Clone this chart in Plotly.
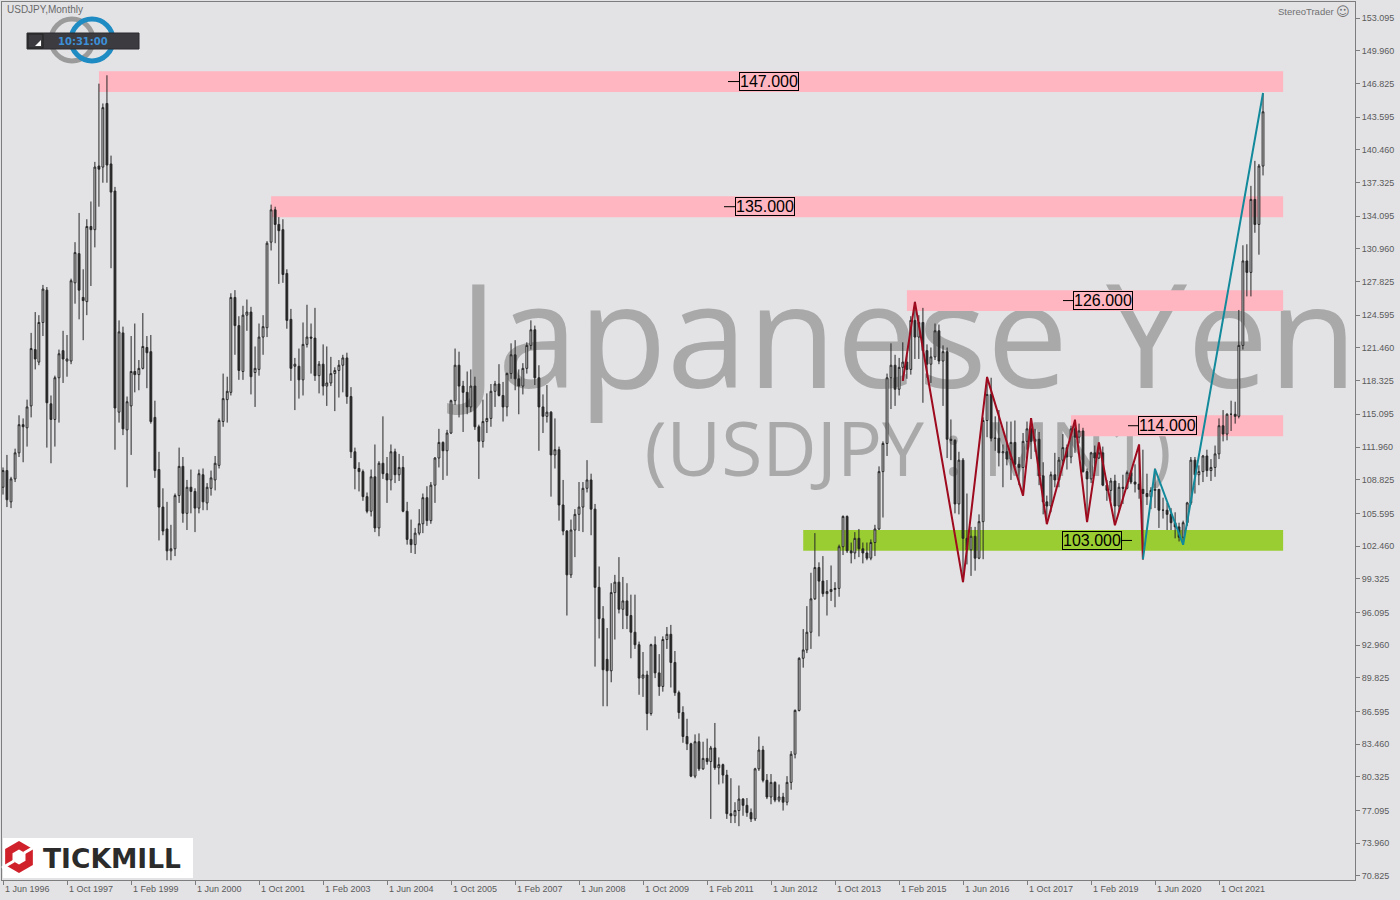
import plotly.graph_objects as go
import pandas as pd

# ---------------- DATA ----------------
start_month = "1996-06-01"

opens = [
    108.1, 109.7, 106.7, 108.9, 111.4, 114.1, 113.8,
    115.9, 121.3, 120.1, 123.9, 127.0, 116.1, 114.6, 118.6, 121.2, 120.2, 120.2, 127.7,
    130.5, 126.3, 125.9, 133.1, 132.8, 138.9, 138.8, 144.9, 139.1, 136.5, 115.3, 122.9,
    113.6, 115.9, 119.2, 118.9, 119.5, 121.5, 121.1, 114.8, 109.8, 106.2, 104.1, 102.0,
    102.2, 107.3, 110.1, 105.6, 108.1, 107.7, 106.1, 109.3, 106.6, 108.0, 108.8, 110.2,
    114.4, 116.5, 117.2, 126.3, 123.6, 119.2, 124.6, 124.9, 119.1, 119.4, 122.5, 123.4,
    131.6, 134.7, 133.3, 132.8, 128.6, 124.2, 119.7, 119.7, 118.4, 121.8, 122.5, 122.4,
    118.8, 119.9, 117.8, 118.1, 119.0, 119.3, 119.8, 120.5, 116.8, 111.5, 109.9, 109.6,
    107.2, 105.8, 109.1, 104.2, 110.4, 109.4, 108.8, 111.5, 109.3, 110.0, 105.8, 103.1,
    102.6, 103.7, 104.6, 107.1, 104.9, 108.3, 110.9, 112.4, 111.6, 113.3, 116.4, 119.8,
    117.8, 117.2, 115.8, 117.8, 113.9, 112.5, 114.4, 114.7, 117.3, 118.0, 116.9, 115.8,
    119.0, 120.8, 118.5, 117.8, 119.5, 121.7, 123.2, 118.6, 115.8, 114.9, 115.3, 111.2,
    111.7, 106.4, 103.9, 99.7, 104.0, 105.5, 106.2, 108.0, 108.8, 106.0, 98.5, 95.5,
    91.6, 90.5, 98.0, 99.0, 96.4, 97.2, 95.8, 94.2, 93.0, 89.8, 90.1, 86.4,
    93.0, 90.3, 89.0, 93.5, 94.0, 91.3, 88.4, 86.5, 84.2, 83.5, 80.4, 83.7,
    81.1, 82.1, 81.8, 83.1, 81.2, 81.5, 80.5, 76.8, 76.6, 77.1, 78.2, 77.6,
    76.9, 76.3, 81.1, 82.9, 80.0, 78.4, 79.8, 78.1, 78.4, 77.9, 79.8, 82.5,
    86.7, 91.7, 92.5, 94.2, 97.4, 100.4, 99.1, 97.9, 98.1, 98.3, 98.4, 102.4,
    105.3, 102.0, 101.8, 103.2, 102.2, 101.8, 101.3, 102.8, 104.1, 109.6, 112.3, 118.6,
    119.8, 117.5, 119.6, 120.1, 119.4, 124.1, 122.5, 123.9, 121.2, 119.9, 120.6, 123.1,
    120.2, 121.1, 112.7, 112.6, 106.5, 110.7, 103.2, 102.1, 103.4, 101.3, 104.8, 114.5,
    117.0, 112.8, 112.8, 111.4, 111.5, 110.8, 112.4, 110.3, 110.0, 112.5, 113.7, 112.5,
    112.7, 109.2, 106.7, 106.3, 109.3, 108.8, 110.7, 111.9, 111.0, 113.7, 112.9, 113.5,
    109.6, 108.9, 111.4, 110.9, 111.4, 108.3, 107.8, 108.7, 106.3, 108.1, 108.0, 109.5,
    108.6, 108.4, 107.9, 107.5, 107.2, 107.8, 107.9, 105.9, 105.9, 105.5, 104.7, 104.3,
    103.3, 104.7, 106.6, 110.7, 109.3, 109.6, 111.1, 109.7, 110.0, 111.3, 114.0, 113.2,
    115.1, 115.1, 114.9, 121.7, 129.8, 128.7, 135.7, 133.3, 138.9,
]

highs = [
    110.0, 111.2, 109.1, 111.8, 115.0, 114.7, 116.5,
    122.9, 124.9, 124.6, 127.5, 127.3, 116.9, 118.8, 121.3, 123.1, 122.7, 128.1, 131.6,
    134.4, 129.0, 133.8, 135.5, 139.3, 146.8, 144.9, 147.6, 139.9, 136.9, 124.1, 123.5,
    116.8, 122.6, 123.8, 120.3, 124.8, 122.6, 122.7, 116.4, 111.5, 108.0, 106.7, 104.5,
    107.5, 111.9, 111.0, 108.8, 109.8, 108.0, 109.8, 109.9, 108.5, 109.7, 111.1, 114.7,
    119.0, 118.7, 126.7, 127.0, 124.5, 125.5, 126.1, 125.4, 121.6, 123.8, 124.6, 131.7,
    135.2, 135.0, 134.0, 133.8, 129.0, 125.2, 120.5, 121.4, 123.9, 125.6, 123.8, 125.3,
    120.2, 121.8, 121.6, 120.6, 119.6, 120.3, 120.8, 121.0, 117.7, 111.9, 110.5, 109.8,
    107.6, 109.8, 112.2, 110.6, 114.9, 111.0, 112.2, 111.8, 111.3, 111.1, 106.7, 105.0,
    104.2, 106.0, 107.5, 108.2, 108.6, 111.0, 113.7, 112.5, 113.6, 116.5, 121.4, 121.1,
    118.3, 119.2, 119.4, 118.7, 114.1, 116.5, 117.1, 118.0, 118.3, 119.9, 118.2, 119.1,
    121.9, 122.2, 119.4, 120.0, 122.0, 124.1, 123.6, 119.8, 117.0, 117.9, 115.4, 114.7,
    112.0, 108.8, 104.0, 105.0, 106.0, 108.6, 108.6, 110.7, 109.4, 106.5, 100.5, 96.7,
    94.6, 98.9, 99.7, 101.4, 99.5, 98.9, 97.8, 97.8, 93.3, 92.3, 90.5, 93.1,
    93.8, 92.1, 93.8, 94.7, 94.9, 92.4, 88.6, 87.1, 85.9, 83.6, 84.4, 84.5,
    83.7, 84.0, 83.3, 85.5, 82.2, 81.6, 81.0, 80.2, 77.9, 79.5, 78.3, 78.3,
    77.3, 81.2, 84.2, 83.3, 80.6, 80.6, 79.9, 79.6, 78.8, 80.4, 82.8, 86.8,
    91.8, 94.5, 96.7, 99.9, 103.7, 100.9, 101.5, 99.2, 100.6, 99.0, 102.6, 105.4,
    105.4, 102.8, 103.8, 104.1, 102.8, 102.8, 103.1, 104.5, 110.1, 112.5, 119.0, 121.9,
    120.8, 120.5, 122.0, 120.8, 124.5, 125.9, 124.6, 125.3, 121.8, 121.5, 123.8, 123.7,
    121.7, 121.5, 114.6, 112.7, 111.5, 110.9, 107.5, 104.3, 104.3, 105.5, 114.8, 118.7,
    118.6, 114.9, 115.5, 112.2, 114.4, 114.4, 114.5, 111.0, 113.3, 114.4, 114.7, 113.7,
    113.4, 110.5, 107.3, 109.6, 111.4, 111.0, 113.2, 112.2, 114.0, 114.6, 114.2, 113.8,
    109.9, 111.5, 112.1, 112.4, 112.0, 108.8, 109.0, 109.3, 108.5, 109.3, 109.7, 109.7,
    110.3, 112.2, 111.7, 109.4, 108.1, 109.9, 107.9, 107.1, 106.6, 106.1, 105.7, 104.7,
    104.9, 106.7, 111.0, 111.0, 110.2, 111.2, 111.7, 110.8, 112.1, 114.7, 115.5, 115.2,
    116.4, 116.3, 125.1, 131.3, 131.4, 137.0, 139.4, 139.1, 145.9,
]

lows = [
    107.4, 106.2, 106.1, 108.6, 111.0, 110.5, 112.0,
    114.8, 119.4, 119.8, 122.6, 111.9, 110.4, 112.0, 114.3, 118.1, 118.7, 119.9, 125.7,
    124.2, 122.2, 124.6, 127.4, 131.1, 135.0, 137.3, 137.3, 129.1, 111.7, 114.3, 113.1,
    108.1, 111.2, 117.2, 117.4, 119.4, 117.6, 114.2, 109.0, 103.0, 103.5, 101.1, 101.1,
    101.5, 106.6, 104.7, 104.0, 105.6, 103.8, 105.6, 105.9, 105.9, 107.3, 107.8, 109.9,
    113.9, 114.3, 116.9, 120.8, 118.4, 118.4, 123.1, 117.0, 115.8, 118.8, 120.8, 122.5,
    130.8, 131.5, 127.6, 127.7, 123.3, 118.3, 115.5, 116.6, 116.9, 121.5, 119.0, 118.3,
    117.1, 116.9, 115.9, 117.8, 115.4, 116.7, 117.2, 116.1, 110.9, 107.9, 107.7, 106.8,
    105.6, 105.3, 103.8, 103.4, 108.9, 106.6, 107.8, 108.5, 108.7, 105.7, 102.6, 101.8,
    101.7, 103.5, 103.7, 104.4, 104.6, 106.6, 110.0, 108.8, 109.2, 113.2, 116.0, 114.8,
    113.4, 115.1, 115.3, 113.6, 108.9, 111.9, 113.3, 113.9, 115.8, 116.8, 114.4, 114.9,
    118.5, 117.4, 115.1, 117.0, 119.0, 121.3, 117.9, 111.6, 113.3, 114.3, 107.2, 109.9,
    104.9, 103.5, 95.8, 99.4, 101.4, 103.9, 103.8, 107.6, 103.5, 90.9, 93.6, 87.1,
    87.1, 89.4, 93.5, 96.0, 94.5, 94.5, 91.7, 92.6, 88.2, 88.0, 84.8, 86.2,
    89.8, 88.1, 88.5, 92.6, 88.9, 88.1, 85.9, 83.6, 82.9, 80.3, 80.2, 80.9,
    81.0, 81.5, 76.3, 81.0, 79.6, 79.7, 76.3, 75.9, 75.9, 75.6, 76.6, 76.5,
    76.0, 76.1, 80.9, 79.8, 78.2, 77.7, 77.9, 77.9, 77.1, 77.6, 79.1, 82.1,
    86.6, 90.8, 92.2, 92.6, 97.3, 93.8, 97.6, 95.8, 97.2, 96.6, 97.6, 101.6,
    101.8, 100.8, 101.2, 101.4, 100.8, 101.1, 101.1, 101.5, 104.0, 105.2, 111.1, 115.6,
    115.9, 116.9, 118.3, 118.5, 118.9, 120.4, 120.4, 116.2, 118.6, 118.1, 120.3, 119.9,
    115.9, 110.9, 110.7, 105.6, 105.5, 99.0, 100.7, 99.6, 100.1, 101.2, 101.2, 112.9,
    112.5, 111.6, 110.1, 108.1, 110.2, 108.8, 110.0, 108.3, 107.3, 111.7, 110.8, 111.5,
    108.3, 105.5, 104.6, 105.7, 108.1, 108.1, 110.3, 109.8, 110.4, 111.4, 112.3, 109.5,
    104.8, 108.5, 109.7, 110.8, 108.2, 106.8, 106.8, 104.5, 105.7, 106.5, 107.9, 108.4,
    107.6, 107.0, 101.2, 106.4, 106.0, 106.1, 104.2, 105.1, 104.0, 104.0, 103.2, 102.9,
    102.6, 104.4, 106.4, 107.5, 108.3, 108.6, 109.1, 108.7, 109.1, 110.8, 112.5, 112.6,
    113.5, 114.2, 114.7, 121.3, 126.4, 126.4, 132.5, 130.4, 138.0,
]

closes = [
    109.7, 106.9, 108.9, 111.4, 114.1, 113.9, 115.8,
    121.4, 120.4, 123.9, 127.1, 116.2, 114.6, 118.6, 120.9, 120.4, 120.4, 127.9, 130.6,
    127.0, 126.0, 133.1, 132.8, 138.8, 138.6, 144.5, 139.0, 136.4, 115.7, 123.0, 113.7,
    116.3, 119.2, 118.9, 119.5, 121.6, 121.0, 114.4, 109.7, 106.2, 103.9, 102.0, 102.2,
    107.3, 110.1, 105.6, 108.1, 107.7, 106.1, 109.4, 106.7, 108.1, 109.0, 110.4, 114.5,
    116.6, 117.3, 126.3, 123.6, 119.3, 124.6, 124.9, 118.7, 119.5, 122.5, 123.5, 131.5,
    134.7, 133.3, 132.7, 128.5, 124.1, 119.5, 119.9, 118.4, 121.8, 122.5, 122.4, 118.8,
    119.9, 117.8, 118.1, 119.0, 119.3, 119.8, 120.5, 116.8, 111.5, 109.9, 109.6, 107.2,
    105.8, 109.1, 104.2, 110.4, 109.4, 108.8, 111.5, 109.3, 110.0, 105.8, 103.1, 102.6,
    103.7, 104.6, 107.1, 104.9, 108.3, 110.9, 112.4, 111.6, 113.3, 116.4, 119.8, 117.8,
    117.2, 115.8, 117.8, 113.9, 112.5, 114.4, 114.7, 117.3, 118.0, 116.9, 115.8, 119.0,
    120.8, 118.5, 117.8, 119.5, 121.7, 123.2, 118.6, 115.8, 114.9, 115.3, 111.2, 111.7,
    106.4, 103.9, 99.7, 104.0, 105.5, 106.2, 108.0, 108.8, 106.0, 98.5, 95.5, 90.6,
    90.5, 98.0, 99.0, 96.4, 97.2, 95.8, 94.2, 93.0, 89.8, 90.1, 86.4, 93.0,
    90.3, 89.0, 93.5, 94.0, 91.3, 88.4, 86.5, 84.2, 83.5, 80.4, 83.7, 81.1,
    82.1, 81.8, 83.1, 81.2, 81.5, 80.5, 76.8, 76.6, 77.1, 78.2, 77.6, 76.9,
    76.3, 81.1, 82.9, 80.0, 78.4, 79.8, 78.1, 78.4, 77.9, 79.8, 82.5, 86.7,
    91.7, 92.5, 94.2, 97.4, 100.4, 99.1, 97.9, 98.1, 98.3, 98.4, 102.4, 105.3,
    102.0, 101.8, 103.2, 102.2, 101.8, 101.3, 102.8, 104.1, 109.6, 112.3, 118.6, 119.8,
    117.5, 119.6, 120.1, 119.4, 124.1, 122.5, 123.9, 121.2, 119.9, 120.6, 123.1, 120.2,
    121.1, 112.7, 112.6, 106.5, 110.7, 103.2, 102.1, 103.4, 101.3, 104.8, 114.5, 117.0,
    112.8, 112.8, 111.4, 111.5, 110.8, 112.4, 110.3, 110.0, 112.5, 113.7, 112.5, 112.7,
    109.2, 106.7, 106.3, 109.3, 108.8, 110.7, 111.9, 111.0, 113.7, 112.9, 113.5, 109.6,
    108.9, 111.4, 110.9, 111.4, 108.3, 107.8, 108.7, 106.3, 108.1, 108.0, 109.5, 108.6,
    108.4, 107.9, 107.5, 107.2, 107.8, 107.9, 105.9, 105.9, 105.5, 104.7, 104.3, 103.3,
    104.7, 106.6, 110.7, 109.3, 109.6, 111.1, 109.7, 110.0, 111.3, 114.0, 113.2, 115.1,
    115.1, 114.9, 121.7, 129.8, 128.7, 135.7, 133.3, 138.9, 144.1,
]

# Support / resistance zones
zone_levels = [147.0, 135.0, 126.0, 114.0, 103.0]
zone_low = [146.0, 134.0, 125.0, 113.0, 102.0]
zone_high = [148.0, 136.0, 127.0, 115.0, 104.0]
zone_start = ["1998-06-01", "2002-01-01", "2015-04-01", "2018-09-01", "2013-02-01"]
zone_end = "2023-02-01"
zone_labels = ["147.000", "135.000", "126.000", "114.000", "103.000"]

# Zigzag swing points
red_zz_dates = ["2015-03-01", "2015-06-01", "2016-06-01", "2016-12-01", "2017-09-01",
                "2017-11-01", "2018-03-01", "2018-10-01", "2019-01-01", "2019-04-01",
                "2019-08-01", "2020-02-01", "2020-03-01"]
red_zz_values = [118.3, 125.86, 99.0, 118.66, 107.3, 114.73, 104.56, 114.55, 104.75,
                 112.4, 104.46, 112.2, 101.18]
teal_zz_dates = ["2020-03-01", "2020-06-01", "2021-01-01", "2022-09-01"]
teal_zz_values = [101.18, 109.85, 102.59, 145.9]

# Axis ticks
ytick_vals = [153.095, 149.960, 146.825, 143.595, 140.460, 137.325, 134.095, 130.960,
              127.825, 124.595, 121.460, 118.325, 115.095, 111.960, 108.825, 105.595,
              102.460, 99.325, 96.095, 92.960, 89.825, 86.595, 83.460, 80.325, 77.095,
              73.960, 70.825]
xtick_dates = ["1996-06-01", "1997-10-01", "1999-02-01", "2000-06-01", "2001-10-01",
               "2003-02-01", "2004-06-01", "2005-10-01", "2007-02-01", "2008-06-01",
               "2009-10-01", "2011-02-01", "2012-06-01", "2013-10-01", "2015-02-01",
               "2016-06-01", "2017-10-01", "2019-02-01", "2020-06-01", "2021-10-01"]
xtick_labels = ["1 Jun 1996", "1 Oct 1997", "1 Feb 1999", "1 Jun 2000", "1 Oct 2001",
                "1 Feb 2003", "1 Jun 2004", "1 Oct 2005", "1 Feb 2007", "1 Jun 2008",
                "1 Oct 2009", "1 Feb 2011", "1 Jun 2012", "1 Oct 2013", "1 Feb 2015",
                "1 Jun 2016", "1 Oct 2017", "1 Feb 2019", "1 Jun 2020", "1 Oct 2021"]

dates = pd.date_range(start_month, periods=len(closes), freq="MS")

# ---------------- LAYOUT GEOMETRY ----------------
W, H = 1400, 900
PL, PR, PT, PB = 2, 1355, 2, 880          # plot area in pixels
PW, PH = PR - PL, PB - PT
BG = "#e3e3e6"
INK = "#262626"

T0 = pd.Timestamp(start_month)
DAYS_PER_PX = 30.4375 / 4.0               # 4 px per month
X_FIRST_PX = 3                            # pixel of the first candle


def mdate(m):
    """month offset (fractional) -> timestamp"""
    return T0 + pd.Timedelta(days=m * 30.4375)


def pxdate(p):
    return T0 + pd.Timedelta(days=(p - X_FIRST_PX) * DAYS_PER_PX)


def yval(p):
    return 153.095 - (p - 18) / 10.429


def fx(p):
    return (p - PL) / PW


def fy(p):
    return (PB - p) / PH


x_range = [pxdate(PL), pxdate(PR)]
y_range = [yval(PB), yval(PT)]

fig = go.Figure()

fig.add_trace(go.Candlestick(
    x=dates, open=opens, high=highs, low=lows, close=closes,
    increasing=dict(line=dict(color=INK, width=1), fillcolor=BG),
    decreasing=dict(line=dict(color=INK, width=1), fillcolor=INK),
    whiskerwidth=0, showlegend=False, hoverinfo="skip",
))

fig.add_trace(go.Scatter(x=red_zz_dates, y=red_zz_values, mode="lines",
                         line=dict(color="#9e0a1e", width=2), showlegend=False,
                         hoverinfo="skip"))
fig.add_trace(go.Scatter(x=teal_zz_dates, y=teal_zz_values, mode="lines",
                         line=dict(color="#138a9b", width=2), showlegend=False,
                         hoverinfo="skip"))

shapes = []
# watermark (below everything)
shapes.append(dict(type="rect", xref="paper", yref="paper", layer="below",
                   x0=fx(408), x1=fx(1408), y0=fy(401), y1=fy(281),
                   line=dict(width=0), fillcolor="rgba(0,0,0,0)",
                   label=dict(text="Japanese Yen", textposition="middle center",
                              font=dict(family="Open Sans", size=145, color="#a9a9aa"))))
shapes.append(dict(type="rect", xref="paper", yref="paper", layer="below",
                   x0=fx(608), x1=fx(1208), y0=fy(492), y1=fy(412),
                   line=dict(width=0), fillcolor="rgba(0,0,0,0)",
                   label=dict(text="(USDJPY : MN1)", textposition="middle center",
                              font=dict(family="Open Sans", size=75, color="#a9a9aa"))))
# zones
for lo, hi, st, lvl in zip(zone_low, zone_high, zone_start, zone_levels):
    col = "#9acd32" if lvl == 103.0 else "#ffb6c1"
    shapes.append(dict(type="rect", xref="x", yref="y", layer="below",
                       x0=st, x1=zone_end, y0=lo, y1=hi,
                       line=dict(width=0), fillcolor=col))

# price label stubs (month offsets of stub start / end)
stub_m = [(181.25, 184.0), (180.25, 183.0), (265.0, 267.5), (281.25, 283.75), (279.75, 282.25)]
annotations = []
for lvl, txt, (a, b) in zip(zone_levels, zone_labels, stub_m):
    shapes.append(dict(type="line", xref="x", yref="y", x0=mdate(a), x1=mdate(b),
                       y0=lvl, y1=lvl, line=dict(color="black", width=1)))
    right = lvl == 103.0
    annotations.append(dict(
        x=mdate(a) if right else mdate(b), y=lvl, xref="x", yref="y",
        text=txt, showarrow=False, xanchor="right" if right else "left", yanchor="middle",
        font=dict(family="Liberation Sans", size=16, color="black"),
        bordercolor="black", borderwidth=1, borderpad=0, bgcolor="rgba(0,0,0,0)"))

# clock / logo widget top-left
shapes.append(dict(type="circle", xref="paper", yref="paper", x0=fx(51), x1=fx(93),
                   y0=fy(61), y1=fy(19), line=dict(color="#9b9b9b", width=5)))
shapes.append(dict(type="circle", xref="paper", yref="paper", x0=fx(71), x1=fx(113),
                   y0=fy(61), y1=fy(19), line=dict(color="#1e8bc3", width=5)))
shapes.append(dict(type="rect", xref="paper", yref="paper", x0=fx(27), x1=fx(139),
                   y0=fy(49), y1=fy(33), fillcolor="#3b3b40", line=dict(color="#2a2a2e", width=1)))
shapes.append(dict(type="rect", xref="paper", yref="paper", x0=fx(28), x1=fx(43),
                   y0=fy(48), y1=fy(34), fillcolor="#3b3b40", line=dict(color="#222", width=1)))
shapes.append(dict(type="path", xref="paper", yref="paper",
                   path=f"M{fx(41)},{fy(46)} L{fx(41)},{fy(40)} L{fx(35)},{fy(46)} Z",
                   fillcolor="white", line=dict(width=0)))
annotations.append(dict(x=fx(83), y=fy(41), xref="paper", yref="paper", text="10:31:00",
                        showarrow=False, xanchor="center", yanchor="middle",
                        font=dict(family="DejaVu Sans", size=10, color="#3d8fd6", weight="bold")))

# Tickmill logo bottom-left
shapes.append(dict(type="rect", xref="paper", yref="paper", x0=fx(3), x1=fx(193),
                   y0=fy(878), y1=fy(838), fillcolor="white", line=dict(width=0)))


def hexpath(cx, cy, r):
    import math
    pts = []
    for k in range(6):
        ang = math.radians(-90 + 60 * k)
        pts.append((cx + r * math.cos(ang), cy + r * math.sin(ang)))
    return "M" + " L".join(f"{fx(px)},{fy(py)}" for px, py in pts) + " Z"


shapes.append(dict(type="path", xref="paper", yref="paper", path=hexpath(19, 857, 16),
                   fillcolor="#d0202a", line=dict(width=0)))
shapes.append(dict(type="path", xref="paper", yref="paper", path=hexpath(19, 857, 7.5),
                   fillcolor="white", line=dict(width=0)))
shapes.append(dict(type="line", xref="paper", yref="paper", x0=fx(24), y0=fy(853),
                   x1=fx(36), y1=fy(846), line=dict(color="white", width=3)))
shapes.append(dict(type="line", xref="paper", yref="paper", x0=fx(14), y0=fy(861),
                   x1=fx(2), y1=fy(868), line=dict(color="white", width=3)))
annotations.append(dict(x=fx(41), y=fy(858), xref="paper", yref="paper", text="TICKMILL",
                        showarrow=False, xanchor="left", yanchor="middle",
                        font=dict(family="DejaVu Sans", size=26.5, color="#2b2b2b", weight="bold")))

# top texts
annotations.append(dict(x=fx(5), y=fy(10), xref="paper", yref="paper", text="USDJPY,Monthly",
                        showarrow=False, xanchor="left", yanchor="middle",
                        font=dict(family="Liberation Sans", size=10, color="#6a6a6a")))
annotations.append(dict(x=fx(1336), y=fy(11), xref="paper", yref="paper", text="StereoTrader",
                        showarrow=False, xanchor="right", yanchor="middle",
                        font=dict(family="Liberation Sans", size=9.5, color="#707070")))
annotations.append(dict(x=fx(1343), y=fy(11), xref="paper", yref="paper", text="☺",
                        showarrow=False, xanchor="center", yanchor="middle",
                        font=dict(family="DejaVu Sans", size=13, color="#707070")))

# x tick labels (left-aligned at the tick like MT4)
for d, lab in zip(xtick_dates, xtick_labels):
    annotations.append(dict(x=d, y=0, xref="x", yref="paper", text=lab, showarrow=False,
                            xanchor="left", yanchor="top", xshift=0, yshift=-2,
                            font=dict(family="Liberation Sans", size=9, color="#5a5a5a")))

fig.update_layout(
    width=W, height=H,
    margin=dict(l=PL, r=W - PR, t=PT, b=H - PB, pad=0),
    paper_bgcolor=BG, plot_bgcolor=BG,
    shapes=shapes, annotations=annotations,
    showlegend=False, hovermode=False,
    xaxis=dict(type="date", range=x_range, rangeslider=dict(visible=False),
               showgrid=False, zeroline=False, showline=True, mirror=True,
               linecolor="#7d7d7d", linewidth=1,
               tickvals=xtick_dates, ticks="outside", ticklen=4, tickcolor="#7d7d7d",
               showticklabels=False, fixedrange=True),
    yaxis=dict(range=y_range, side="right", showgrid=False, zeroline=False,
               showline=True, mirror=True, linecolor="#7d7d7d", linewidth=1,
               tickvals=ytick_vals, ticktext=[f"{v:.3f}" for v in ytick_vals],
               ticks="outside", ticklen=4, tickcolor="#7d7d7d",
               tickfont=dict(family="Liberation Sans", size=9, color="#5a5a5a"),
               fixedrange=True),
)

page_fix = ("document.body.style.margin='0';document.body.style.padding='0';"
            "document.body.style.overflow='hidden';"
            f"document.body.style.background='{BG}';")
fig.write_html("out.html", config={"displayModeBar": False}, post_script=page_fix)
